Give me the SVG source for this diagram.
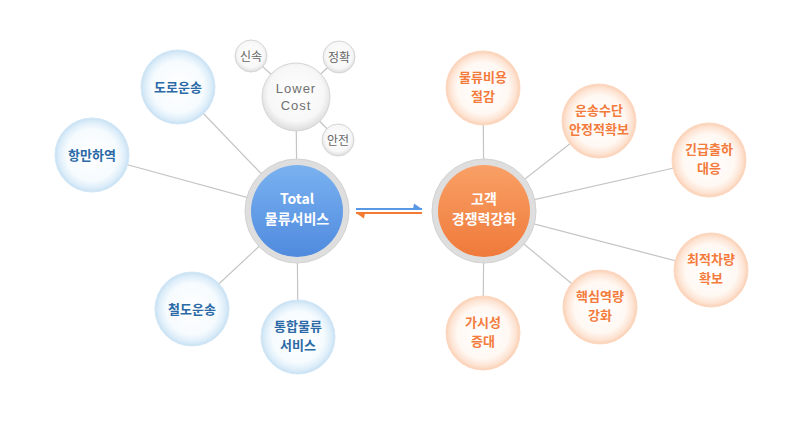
<svg xmlns="http://www.w3.org/2000/svg" width="800" height="425" viewBox="0 0 800 425">
<defs>
<radialGradient id="gBlueSat" cx="50%" cy="50%" r="50%">
<stop offset="0" stop-color="#ffffff"/><stop offset="0.7" stop-color="#f6fbfe"/><stop offset="0.9" stop-color="#dcedf9"/><stop offset="1" stop-color="#c6e0f3"/>
</radialGradient>
<radialGradient id="gOrSat" cx="50%" cy="50%" r="50%">
<stop offset="0" stop-color="#ffffff"/><stop offset="0.7" stop-color="#fff8f3"/><stop offset="0.9" stop-color="#fde3d2"/><stop offset="1" stop-color="#fbcfb3"/>
</radialGradient>
<radialGradient id="gGrey" cx="50%" cy="45%" r="55%">
<stop offset="0" stop-color="#ffffff"/><stop offset="0.75" stop-color="#f7f7f7"/><stop offset="1" stop-color="#dcdcdc"/>
</radialGradient>
<linearGradient id="gBlue" x1="0" y1="0" x2="0" y2="1">
<stop offset="0" stop-color="#7ab2f0"/><stop offset="1" stop-color="#4f8ade"/>
</linearGradient>
<linearGradient id="gOr" x1="0" y1="0" x2="0" y2="1">
<stop offset="0" stop-color="#f9a066"/><stop offset="1" stop-color="#ef7a3a"/>
</linearGradient>
</defs>
<style>
.ln{stroke:#c4c4c4;stroke-width:1.2;fill:none}
.bs{fill:url(#gBlueSat);stroke:#d3e7f6;stroke-width:1}
.os{fill:url(#gOrSat);stroke:#fcd8c2;stroke-width:1}
.gs{fill:url(#gGrey);stroke:#d6d6d6;stroke-width:1}
.ring{fill:#dedede;stroke:#d2d2d2;stroke-width:1}
text{font-family:"Noto Sans CJK KR","Noto Sans",sans-serif;text-anchor:middle}
.bt{fill:#2b6aa6;font-size:13px;font-weight:bold}
.ot{fill:#f37b3c;font-size:13px;font-weight:bold}
.gt{fill:#666;font-size:12px}
.lt{fill:#707070;font-size:13px;font-family:"Liberation Sans",Arial,sans-serif}
.wt{fill:#fff;font-size:14px;font-weight:bold}
</style>
<rect width="800" height="425" fill="#fff"/>
<g id="connectors">
<line class="ln" x1="297" y1="211" x2="92" y2="155"/>
<line class="ln" x1="297" y1="211" x2="178" y2="87"/>
<line class="ln" x1="297" y1="211" x2="192" y2="309"/>
<line class="ln" x1="297" y1="211" x2="298" y2="337"/>
<line class="ln" x1="297" y1="211" x2="296" y2="97"/>
<line class="ln" x1="296" y1="97" x2="251" y2="56"/>
<line class="ln" x1="296" y1="97" x2="339" y2="57"/>
<line class="ln" x1="296" y1="97" x2="338" y2="140"/>
<line class="ln" x1="484" y1="211" x2="483" y2="88"/>
<line class="ln" x1="484" y1="211" x2="599" y2="121"/>
<line class="ln" x1="484" y1="211" x2="709" y2="160"/>
<line class="ln" x1="484" y1="211" x2="711" y2="270"/>
<line class="ln" x1="484" y1="211" x2="600" y2="307"/>
<line class="ln" x1="484" y1="211" x2="483" y2="333"/>
<g id="arrows">
<line x1="356" y1="209" x2="422" y2="209" stroke="#5a98e4" stroke-width="2"/>
<polygon points="413,209 422,209 414,203.5" fill="#5a98e4"/>
<line x1="356" y1="213" x2="422" y2="213" stroke="#f37a30" stroke-width="2"/>
<polygon points="365,213 356,213 364,218.5" fill="#f37a30"/>
</g>
</g>
<g id="lowercost"><circle class="gs" cx="296" cy="97" r="34"/><text class="lt" x="296" y="93" letter-spacing="1">Lower</text><text class="lt" x="296" y="110" letter-spacing="1">Cost</text></g>
<g id="sinsok"><circle class="gs" cx="251" cy="56" r="16"/><text class="gt" x="251" y="60.5">신속</text></g>
<g id="jeonghwak"><circle class="gs" cx="339" cy="57" r="16"/><text class="gt" x="339" y="61.5">정확</text></g>
<g id="anjeon"><circle class="gs" cx="338" cy="140" r="16"/><text class="gt" x="338" y="144.5">안전</text></g>
<g id="total"><circle class="ring" cx="297" cy="211" r="52"/><circle cx="297" cy="211" r="46" fill="url(#gBlue)"/><text class="wt" x="297" y="204" font-size="14" font-family="Liberation Sans, Arial, sans-serif">Total</text><text class="wt" x="297" y="224" font-size="15">물류서비스</text></g>
<g id="customer"><circle class="ring" cx="484" cy="211" r="52"/><circle cx="484" cy="211" r="46" fill="url(#gOr)"/><text class="wt" x="484" y="204" font-size="15">고객</text><text class="wt" x="484" y="224" font-size="15">경쟁력강화</text></g>
<g id="doro"><circle class="bs" cx="178" cy="87" r="37"/><text class="bt" x="178" y="92">도로운송</text></g>
<g id="hangman"><circle class="bs" cx="92" cy="155" r="37"/><text class="bt" x="92" y="160">항만하역</text></g>
<g id="cheoldo"><circle class="bs" cx="192" cy="309" r="37"/><text class="bt" x="192" y="314">철도운송</text></g>
<g id="tonghap"><circle class="bs" cx="298" cy="337" r="37"/><text class="bt" x="298" y="331">통합물류</text><text class="bt" x="298" y="350">서비스</text></g>
<g id="biyong"><circle class="os" cx="483" cy="88" r="37"/><text class="ot" x="483" y="82">물류비용</text><text class="ot" x="483" y="101">절감</text></g>
<g id="unsong"><circle class="os" cx="599" cy="121" r="37"/><text class="ot" x="599" y="115">운송수단</text><text class="ot" x="599" y="134">안정적확보</text></g>
<g id="ginkeup"><circle class="os" cx="709" cy="160" r="37"/><text class="ot" x="709" y="154">긴급출하</text><text class="ot" x="709" y="173">대응</text></g>
<g id="choejeok"><circle class="os" cx="711" cy="270" r="37"/><text class="ot" x="711" y="264">최적차량</text><text class="ot" x="711" y="283">확보</text></g>
<g id="haeksim"><circle class="os" cx="600" cy="307" r="37"/><text class="ot" x="600" y="301">핵심역량</text><text class="ot" x="600" y="320">강화</text></g>
<g id="gasiseong"><circle class="os" cx="483" cy="333" r="37"/><text class="ot" x="483" y="327">가시성</text><text class="ot" x="483" y="346">증대</text></g>
</svg>
